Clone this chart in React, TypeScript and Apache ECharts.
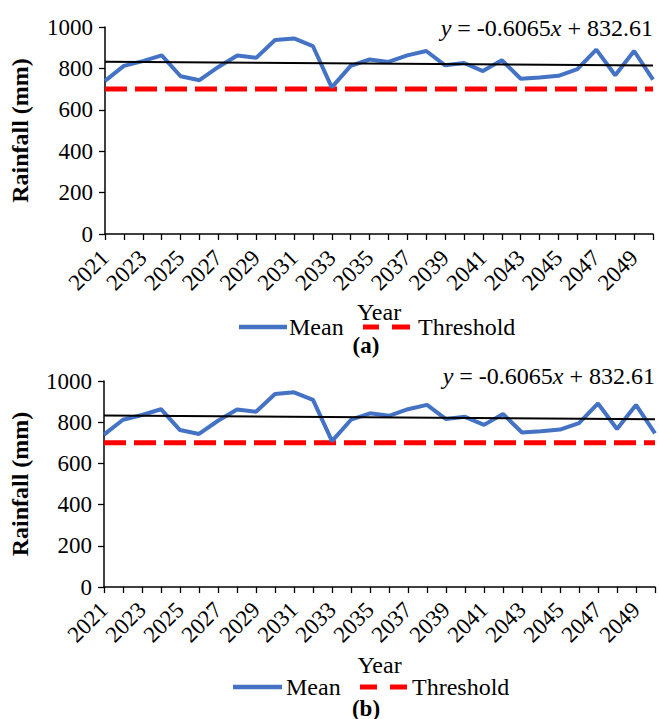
import React, { useEffect, useRef } from "react";
import * as echarts from "echarts";

const years = [
  "2021", "2022", "2023", "2024", "2025", "2026", "2027", "2028", "2029", "2030",
  "2031", "2032", "2033", "2034", "2035", "2036", "2037", "2038", "2039", "2040",
  "2041", "2042", "2043", "2044", "2045", "2046", "2047", "2048", "2049", "2050",
];

const meanRainfall = [
  740, 812, 835, 863, 762, 743, 807, 862, 851, 937,
  945, 908, 708, 812, 843, 831, 863, 884, 815, 826,
  787, 840, 750, 756, 764, 796, 891, 767, 884, 746,
];

const thresholdValue = 700;
const trendSlope = -0.6065;
const trendIntercept = 832.61;
const equationText = "{i|y} = -0.6065{i|x} + 832.61";
const panelLabels = ["(a)", "(b)"];
const legendNames = ["Mean", "Threshold"];

const FONT = "Liberation Serif";
const BLUE = "#4472C4";
const RED = "#FF0000";

const grids = [
  { left: 102, top: 27, width: 551, height: 207 },
  { left: 100, top: 381, width: 555, height: 206 },
];

// legend layout per panel
const legendLayout = [
  { y: 327, blue: [239, 287], meanX: 289, red: [[363, 379], [392, 410]], thrX: 418 },
  { y: 687, blue: [233, 282], meanX: 286, red: [[360, 377], [390, 407]], thrX: 412 },
];

export default function App() {
  const ref = useRef<HTMLDivElement>(null);

  useEffect(() => {
    if (!ref.current) return;
    const chart = echarts.init(ref.current, null, { renderer: "svg" });

    const thresholdData = years.map(() => thresholdValue);
    const trendData = years.map((y, i) =>
      i === 0 || i === years.length - 1
        ? trendSlope * (i + 1) + trendIntercept
        : null
    );

    const xAxes = grids.map((_, gi) => ({
      type: "category",
      gridIndex: gi,
      data: years,
      boundaryGap: false,
      axisLine: { lineStyle: { color: "#000", width: 1.5 } },
      axisTick: { interval: 0, length: 6, lineStyle: { color: "#000", width: 1.3 } },
      axisLabel: {
        interval: 1,
        rotate: 45,
        fontSize: 23,
        fontFamily: FONT,
        color: "#000",
        margin: gi === 0 ? 20 : 19,
      },
      name: "Year",
      nameLocation: "middle",
      nameGap: 66,
      nameTextStyle: { fontSize: 24, fontFamily: FONT, color: "#000" },
      splitLine: { show: false },
    }));

    const yAxes = grids.map((_, gi) => ({
      type: "value",
      gridIndex: gi,
      min: 0,
      max: 1000,
      interval: 200,
      axisLine: { show: true, lineStyle: { color: "#000", width: 1.5 } },
      axisTick: { show: true, length: 6, lineStyle: { color: "#000", width: 1.3 } },
      axisLabel: {
        fontSize: 23,
        fontFamily: FONT,
        color: "#000",
        margin: 12,
        formatter: (v: number) => String(v),
      },
      splitLine: { show: false },
      name: "Rainfall (mm)",
      nameLocation: "middle",
      nameGap: gi === 0 ? 73 : 72,
      nameRotate: 90,
      nameTextStyle: { fontSize: 24, fontFamily: FONT, color: "#000", fontWeight: "bold" },
    }));

    const series: any[] = [];
    grids.forEach((_, gi) => {
      series.push({
        name: "Mean",
        type: "line",
        xAxisIndex: gi,
        yAxisIndex: gi,
        data: meanRainfall,
        symbol: "none",
        lineStyle: { color: BLUE, width: 4 },
        itemStyle: { color: BLUE },
        z: 3,
      });
      series.push({
        name: "Threshold",
        type: "line",
        xAxisIndex: gi,
        yAxisIndex: gi,
        data: thresholdData,
        symbol: "none",
        lineStyle: { color: RED, width: 5, type: [22, 8] },
        itemStyle: { color: RED },
        z: 2,
      });
      series.push({
        name: "Trend",
        type: "line",
        xAxisIndex: gi,
        yAxisIndex: gi,
        data: trendData,
        connectNulls: true,
        symbol: "none",
        lineStyle: { color: "#000", width: 2 },
        itemStyle: { color: "#000" },
        silent: true,
        z: 4,
      });
    });

    const eqY = [28, 376];
    const labelY = [345, 708];
    const graphics: any[] = [];
    grids.forEach((g, gi) => {
      graphics.push({
        type: "text",
        x: g.left + g.width,
        y: eqY[gi],
        style: {
          text: equationText,
          fontSize: 24,
          fontFamily: FONT,
          fill: "#000",
          align: "right",
          verticalAlign: "middle",
          rich: {
            i: { fontStyle: "italic", fontSize: 24, fontFamily: FONT, fill: "#000" },
          },
        },
      });
      graphics.push({
        type: "text",
        x: 366,
        y: labelY[gi],
        style: {
          text: panelLabels[gi],
          fontSize: 23,
          fontFamily: FONT,
          fontWeight: "bold",
          fill: "#000",
          align: "center",
          verticalAlign: "middle",
        },
      });
      const L = legendLayout[gi];
      graphics.push({
        type: "line",
        shape: { x1: L.blue[0], y1: L.y, x2: L.blue[1], y2: L.y },
        style: { stroke: BLUE, lineWidth: 4.5 },
      });
      graphics.push({
        type: "text",
        x: L.meanX,
        y: L.y,
        style: {
          text: legendNames[0],
          fontSize: 24,
          fontFamily: FONT,
          fill: "#000",
          align: "left",
          verticalAlign: "middle",
        },
      });
      L.red.forEach((seg) => {
        graphics.push({
          type: "line",
          shape: { x1: seg[0], y1: L.y, x2: seg[1], y2: L.y },
          style: { stroke: RED, lineWidth: 5 },
        });
      });
      graphics.push({
        type: "text",
        x: L.thrX,
        y: L.y,
        style: {
          text: legendNames[1],
          fontSize: 24,
          fontFamily: FONT,
          fill: "#000",
          align: "left",
          verticalAlign: "middle",
        },
      });
    });

    chart.setOption({
      animation: false,
      backgroundColor: "#fff",
      textStyle: { fontFamily: FONT },
      grid: grids,
      xAxis: xAxes,
      yAxis: yAxes,
      series,
      graphic: graphics,
    });

    return () => chart.dispose();
  }, []);

  return (
    <div
      ref={ref}
      style={{ position: "absolute", left: 0, top: 0, width: 659, height: 719, background: "#fff" }}
    />
  );
}
